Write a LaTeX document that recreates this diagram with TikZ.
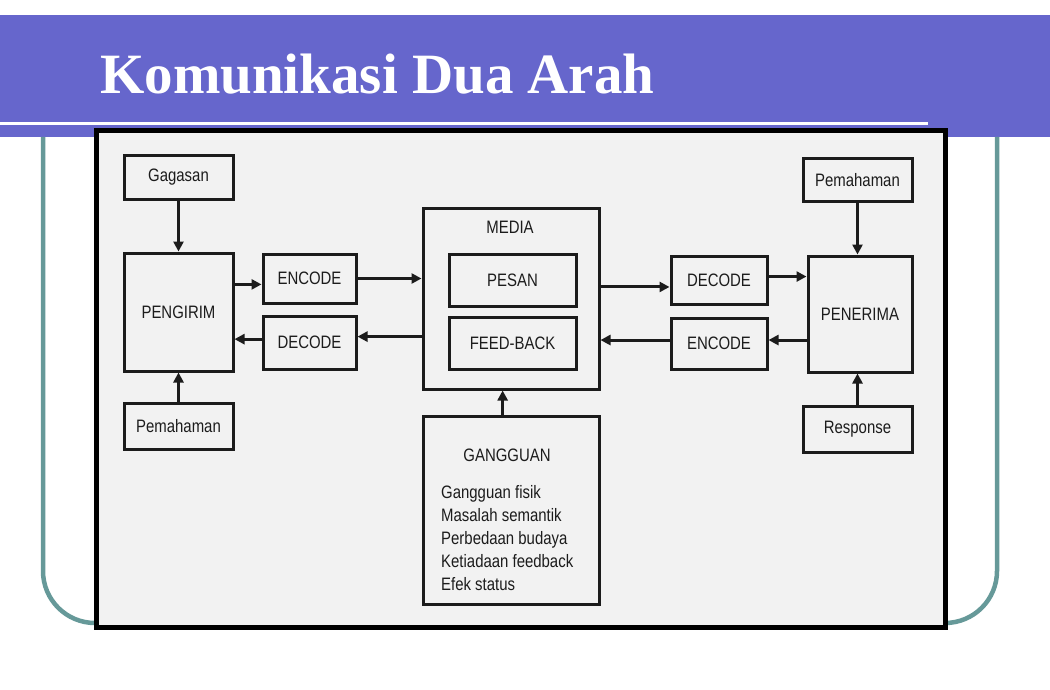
\documentclass[tikz,border=0pt]{standalone}
\usepackage{fontspec}
\usepackage{tikz}
\usetikzlibrary{arrows.meta, positioning}
\setmainfont{Liberation Serif}
\newfontfamily\diagfont[FakeStretch=0.83]{Liberation Sans}
\definecolor{SlideBlue}{HTML}{6666CC}
\definecolor{FrameTeal}{HTML}{669999}
\definecolor{ScanGray}{HTML}{F2F2F2}
\definecolor{InkDark}{HTML}{1C1C1C}

\begin{document}
\begin{tikzpicture}[x=1pt, y=-1pt,
        box/.style={draw=InkDark, line width=3pt, inner sep=0pt, text=InkDark, font=\diagfont\fontsize{18}{23}\selectfont},
        lbl/.style={inner sep=0pt, text=InkDark, font=\diagfont\fontsize{18}{23}\selectfont},
        flow/.style={-{Triangle[length=10pt, width=10pt]}, line width=3pt, draw=InkDark}]
        \useasboundingbox (0,0) rectangle (1050,690);

        % Title bar
        \fill[SlideBlue] (0,15) rectangle (1050,137);
        \draw[white, line width=3pt] (0,123.5) -- (928,123.5);
        \node[anchor=base west, inner sep=0pt, text=white, font=\bfseries\fontsize{57}{60}\selectfont] (title) at (100,94) {Komunikasi Dua Arah};

        % Slide frame and scanned figure
        \draw[FrameTeal, line width=4.5pt, rounded corners=52pt] (43,137) -- (43,623) -- (997,623) -- (997,137);
        \draw[black, line width=5pt, fill=ScanGray] (96.5,130.5) rectangle (945.5,627.5);

        % Sender side
        \node[box, minimum width=109, minimum height=43] (gagasan) at (178.5,177.5) {Gagasan};
        \node[box, minimum width=109, minimum height=118] (pengirim) at (178.5,312) {PENGIRIM};
        \node[box, minimum width=109, minimum height=46] (pemL) at (178.5,426) {Pemahaman};
        \node[box, minimum width=93, minimum height=49] (encL) at (309.5,278.5) {ENCODE};
        \node[box, minimum width=93, minimum height=53] (decL) at (309.5,342.5) {DECODE};

        % Media and noise
        \node[box, minimum width=176, minimum height=181] (media) at (511,298.5) {};
        \node[lbl] (medialbl) at (510,227) {MEDIA};
        \node[box, minimum width=127, minimum height=52] (pesan) at (512.5,280) {PESAN};
        \node[box, minimum width=127, minimum height=52] (feedback) at (512.5,343) {FEED-BACK};
        \node[box, minimum width=176, minimum height=188] (gangguan) at (511,510) {};
        \node[lbl] (ganglbl) at (507,455) {GANGGUAN};
        \node[lbl, anchor=north west, align=left] (ganglist) at (441,485) {Gangguan fisik\\Masalah semantik\\Perbedaan budaya\\Ketiadaan feedback\\Efek status};

        % Receiver side
        \node[box, minimum width=96, minimum height=48] (decR) at (719,280) {DECODE};
        \node[box, minimum width=96, minimum height=51] (encR) at (719,343.5) {ENCODE};
        \node[box, minimum width=104, minimum height=116] (penerima) at (860,314) {PENERIMA};
        \node[box, minimum width=109, minimum height=42] (pemR) at (857.5,180) {Pemahaman};
        \node[box, minimum width=109, minimum height=46] (response) at (857.5,429) {Response};

        % Arrows
        \draw[flow] (gagasan) -- (pengirim);
        \draw[flow] (pemL) -- (pengirim);
        \draw[flow] (pengirim.east |- encL.187) -- (encL.187);
        \draw[flow] (decL.176) -- (decL.176 -| pengirim.east);
        \draw[flow] (encL.east) -- (encL.east -| media.west);
        \draw[flow] (decL.7 -| media.west) -- (decL.7);
        \draw[flow] (decR.188 -| media.east) -- (decR.188);
        \draw[flow] (decR.4) -- (decR.4 -| penerima.west);
        \draw[flow] (encR.4 -| penerima.west) -- (encR.4);
        \draw[flow] (encR.176) -- (encR.176 -| media.east);
        \draw[flow] (gangguan.95) -- (gangguan.95 |- media.south);
        \draw[flow] (pemR.south) -- (pemR.south |- penerima.north);
        \draw[flow] (response.north) -- (response.north |- penerima.south);
    \end{tikzpicture}
\end{document}
